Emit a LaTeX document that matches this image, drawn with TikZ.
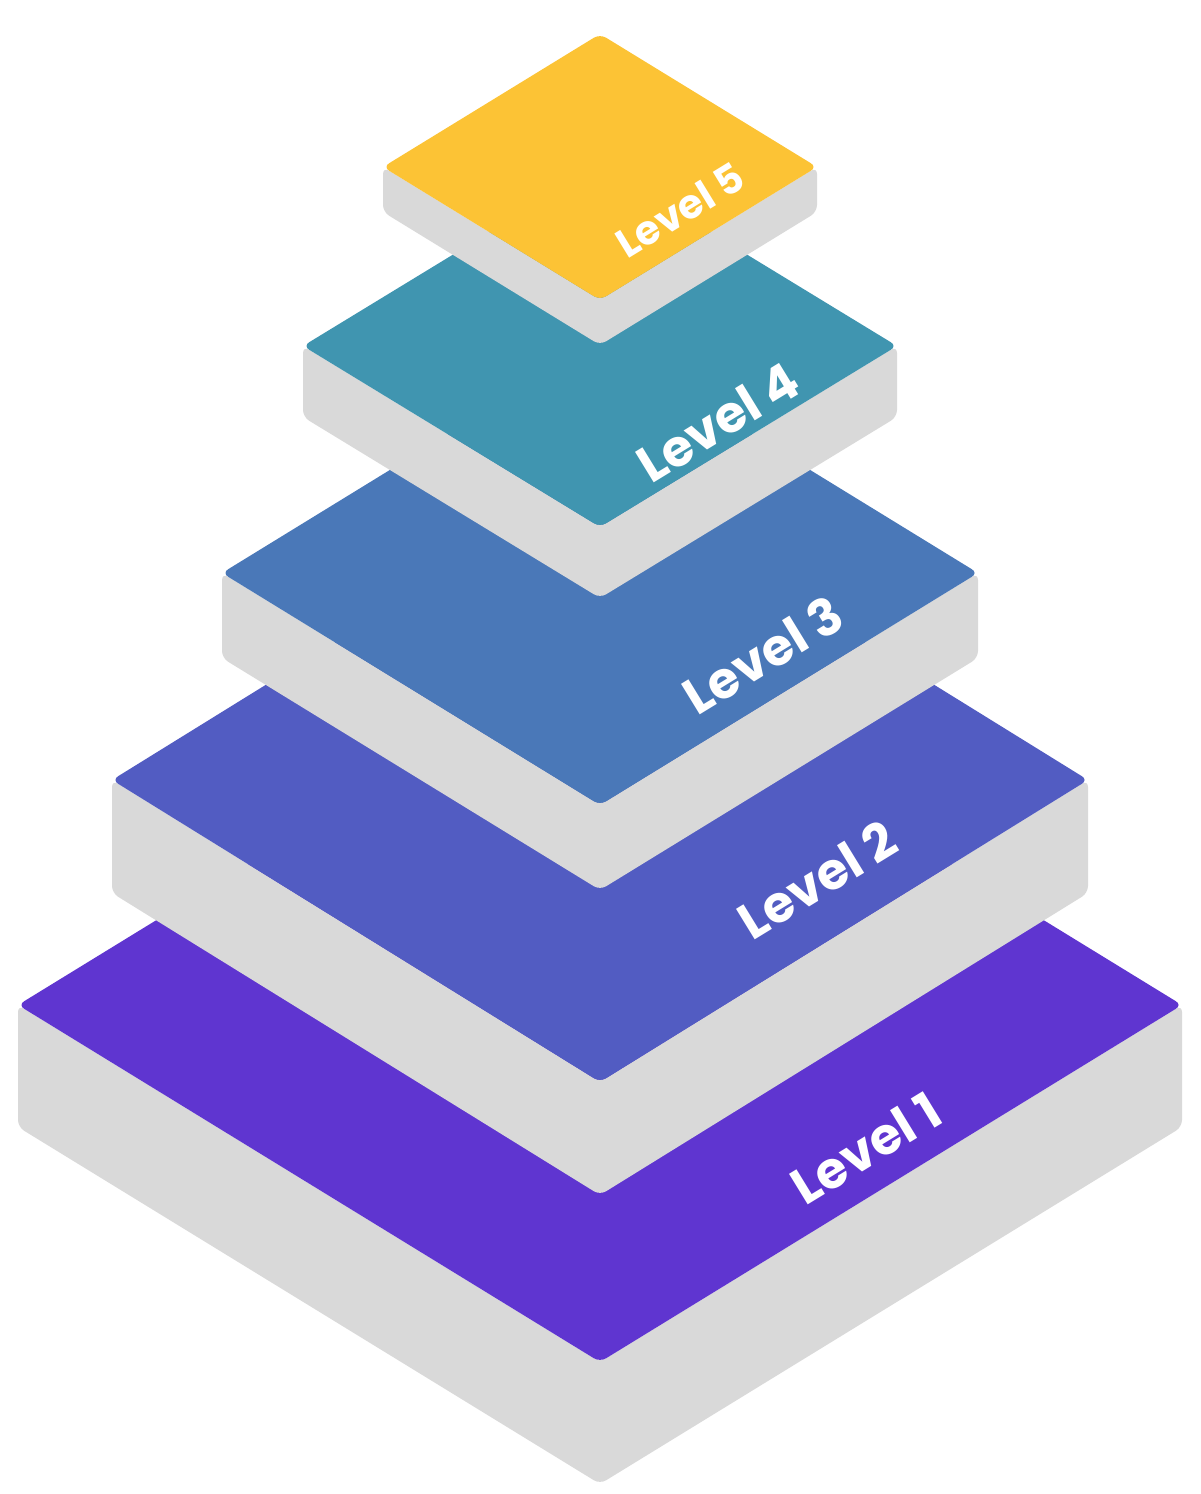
\documentclass[tikz,border=0pt]{standalone}
\usepackage{fontspec}
\setmainfont{Poppins}
\definecolor{side}{HTML}{D9D9D9}
\definecolor{cA}{HTML}{5F35D0}
\definecolor{cB}{HTML}{525CC2}
\definecolor{cC}{HTML}{4A78B8}
\definecolor{cD}{HTML}{4095B0}
\definecolor{cE}{HTML}{FCC335}
\begin{document}
\begin{tikzpicture}[x=0.01cm,y=-0.01cm,
  lbl/.style={text=white,rotate=31.5,inner sep=0pt},
  big/.style={lbl,font=\bfseries\fontsize{14.5}{17}\selectfont},
  small/.style={lbl,font=\bfseries\fontsize{11.5}{14}\selectfont},
  sidestyle/.style={fill=side,rounded corners=2pt},
  topstyle/.style={rounded corners=2pt}]
\useasboundingbox (0,0) rectangle (1200,1494);
\newcommand{\mylayer}[5]{%
  \fill[sidestyle] (#1,#2) -- (600,#2+#3) -- (1200-#1,#2) -- (1200-#1,#2+#4) -- (600,#2+#3+#4) -- (#1,#2+#4) -- cycle;
  \fill[topstyle,#5] (#1,#2) -- (600,#2-#3) -- (1200-#1,#2) -- (600,#2+#3) -- cycle;}
\mylayer{18}{1005}{357}{122}{cA}
\mylayer{112}{780}{302}{113}{cB}
\mylayer{222}{573}{232}{85}{cC}
\mylayer{303}{346}{181}{71}{cD}
\mylayer{383}{167}{133}{45}{cE}
\node[big] (l1) at (866,1148) {Level 1};
\node[big] (l2) at (817,880) {Level 2};
\node[big] (l3) at (763,655) {Level 3};
\node[big] (l4) at (718,422) {Level 4};
\node[small] (l5) at (680,210) {Level 5};
\end{tikzpicture}
\end{document}
